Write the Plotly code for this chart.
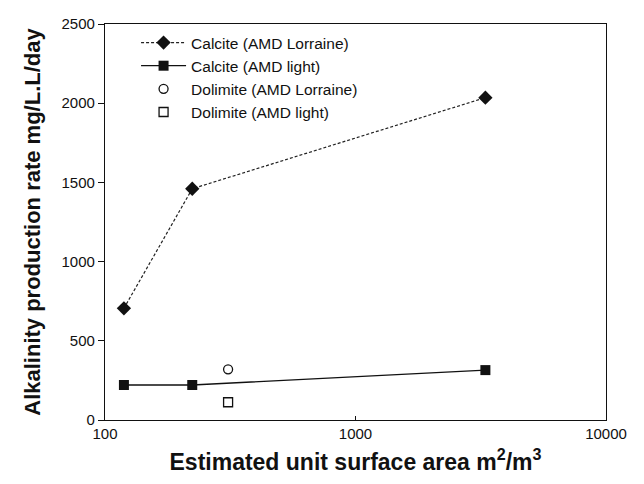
import plotly.graph_objects as go

# Data
calcite_lorraine_x = [119, 223, 3300]
calcite_lorraine_y = [705, 1460, 2035]
calcite_light_x = [119, 223, 3300]
calcite_light_y = [221, 221, 315]
dolimite_lorraine_x = [310]
dolimite_lorraine_y = [320]
dolimite_light_x = [310]
dolimite_light_y = [112]

font_family = "Liberation Sans, Arial, sans-serif"

fig = go.Figure()
fig.add_trace(go.Scatter(
    x=calcite_lorraine_x, y=calcite_lorraine_y, mode="lines+markers",
    name="Calcite (AMD Lorraine)",
    line=dict(color="#222222", width=1.2, dash="3px,2px"),
    marker=dict(symbol="diamond", size=11, color="#111111"),
))
fig.add_trace(go.Scatter(
    x=calcite_light_x, y=calcite_light_y, mode="lines+markers",
    name="Calcite (AMD light)",
    line=dict(color="#111111", width=1.3),
    marker=dict(symbol="square", size=10, color="#111111"),
))
fig.add_trace(go.Scatter(
    x=dolimite_lorraine_x, y=dolimite_lorraine_y, mode="markers",
    name="Dolimite (AMD Lorraine)",
    marker=dict(symbol="circle-open", size=9, color="#111111", line=dict(width=1.3)),
))
fig.add_trace(go.Scatter(
    x=dolimite_light_x, y=dolimite_light_y, mode="markers",
    name="Dolimite (AMD light)",
    marker=dict(symbol="square-open", size=9, color="#111111", line=dict(width=1.3)),
))

fig.update_layout(
    width=644, height=484,
    margin=dict(l=105, r=38, t=24, b=64),
    paper_bgcolor="white", plot_bgcolor="white",
    font=dict(family=font_family, size=15, color="#111111"),
    showlegend=True,
    legend=dict(
        x=0.062, y=0.995, xanchor="left", yanchor="top",
        bgcolor="rgba(0,0,0,0)", font=dict(size=15.5),
        itemwidth=45, tracegroupgap=0,
    ),
    xaxis=dict(
        type="log", range=[2, 4],
        tickvals=[100, 1000, 10000], ticktext=["100", "1000", "10000"],
        ticks="inside", ticklen=4, tickcolor="#111111",
        showline=True, linecolor="#111111", linewidth=1.2, mirror=True,
        showgrid=False, zeroline=False,
        tickfont=dict(size=15),
        title=dict(text="<b>Estimated unit surface area m<sup>2</sup>/m<sup>3</sup></b>",
                   font=dict(size=23), standoff=12),
    ),
    yaxis=dict(
        range=[0, 2500], tickvals=[0, 500, 1000, 1500, 2000, 2500],
        ticks="outside", ticklen=6, tickcolor="#111111",
        showline=True, linecolor="#111111", linewidth=1.2, mirror=True,
        showgrid=False, zeroline=False,
        tickfont=dict(size=15),
        title=dict(text="<b>Alkalinity production rate mg/L.L/day</b>",
                   font=dict(size=22), standoff=14),
    ),
)

fig.write_html("out.html")
